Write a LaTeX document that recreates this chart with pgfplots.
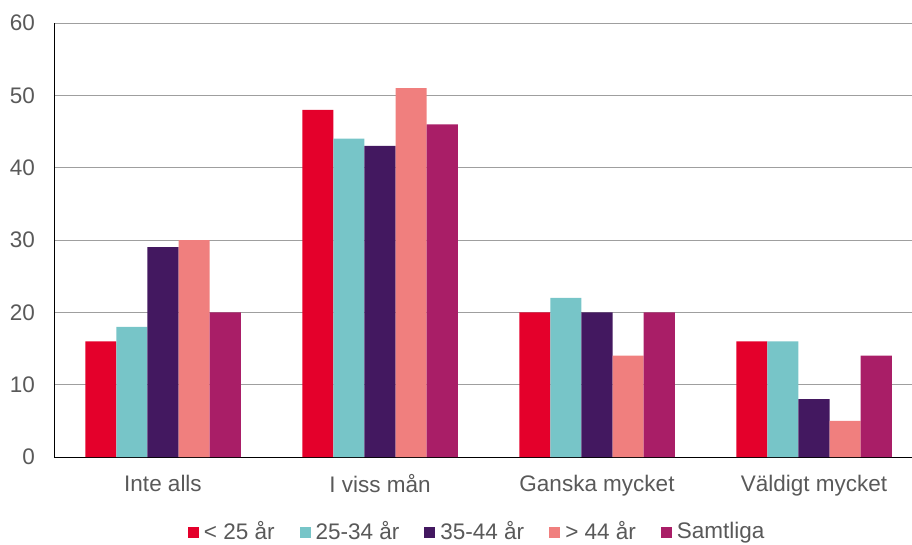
\documentclass[border=0pt]{standalone}
\usepackage{pgfplots}
\pgfplotsset{compat=1.18}
\usepackage{fontspec}
\setmainfont{Liberation Sans}
\definecolor{cA}{HTML}{E4002B}
\definecolor{cB}{HTML}{77C5C8}
\definecolor{cC}{HTML}{431860}
\definecolor{cD}{HTML}{F07F7E}
\definecolor{cE}{HTML}{A91E67}
\definecolor{txt}{HTML}{595959}
\begin{document}
\fontsize{22.5}{26}\selectfont
\begin{tikzpicture}
\begin{axis}[
  at={(0pt,0pt)}, anchor=south west,
  scale only axis, width=868pt, height=434pt,
  ybar=0pt, bar width=31.1pt,
  xmin=-0.5, xmax=3.5, ymin=0, ymax=60,
  xtick={0,1,2,3},
  xticklabels={Inte alls,I viss mån,Ganska mycket,Väldigt mycket},
  ytick={0,10,20,30,40,50,60},
  major tick length=0pt,
  ymajorgrids, grid style={draw=gray!75, line width=1pt},
  axis x line*=bottom, axis y line*=left,
  axis line style={draw=black, line width=1pt},
  separate axis lines,
  y axis line style={-}, x axis line style={-},
  tick label style={font=\fontsize{22.5}{26}\selectfont, text=txt},
  /pgf/number format/assume math mode=true,
  yticklabel style={xshift=-12pt},
  xticklabel style={yshift=-10pt},
  legend style={at={(0.487,-0.144)}, anchor=north, draw=none, font=\fontsize{22.5}{26}\selectfont, text=txt,
    legend columns=-1, /tikz/every even column/.append style={column sep=23pt},
    /tikz/every odd column/.append style={column sep=3pt}, inner sep=0pt},
  legend image code/.code={\fill[#1] (0pt,-5.5pt) rectangle (11pt,5.5pt);},
  legend cell align=left,
]
\addplot[fill=cA, draw=none] coordinates {(0,16) (1,48) (2,20) (3,16)};
\addplot[fill=cB, draw=none] coordinates {(0,18) (1,44) (2,22) (3,16)};
\addplot[fill=cC, draw=none] coordinates {(0,29) (1,43) (2,20) (3,8)};
\addplot[fill=cD, draw=none] coordinates {(0,30) (1,51) (2,14) (3,5)};
\addplot[fill=cE, draw=none] coordinates {(0,20) (1,46) (2,20) (3,14)};
\legend{< 25 år, 25-34 år, 35-44 år, > 44 år, Samtliga}
\end{axis}
\pgfresetboundingbox
\path[use as bounding box] (-54.5pt,-87pt) rectangle (857.5pt,457pt);
\end{tikzpicture}
\end{document}
